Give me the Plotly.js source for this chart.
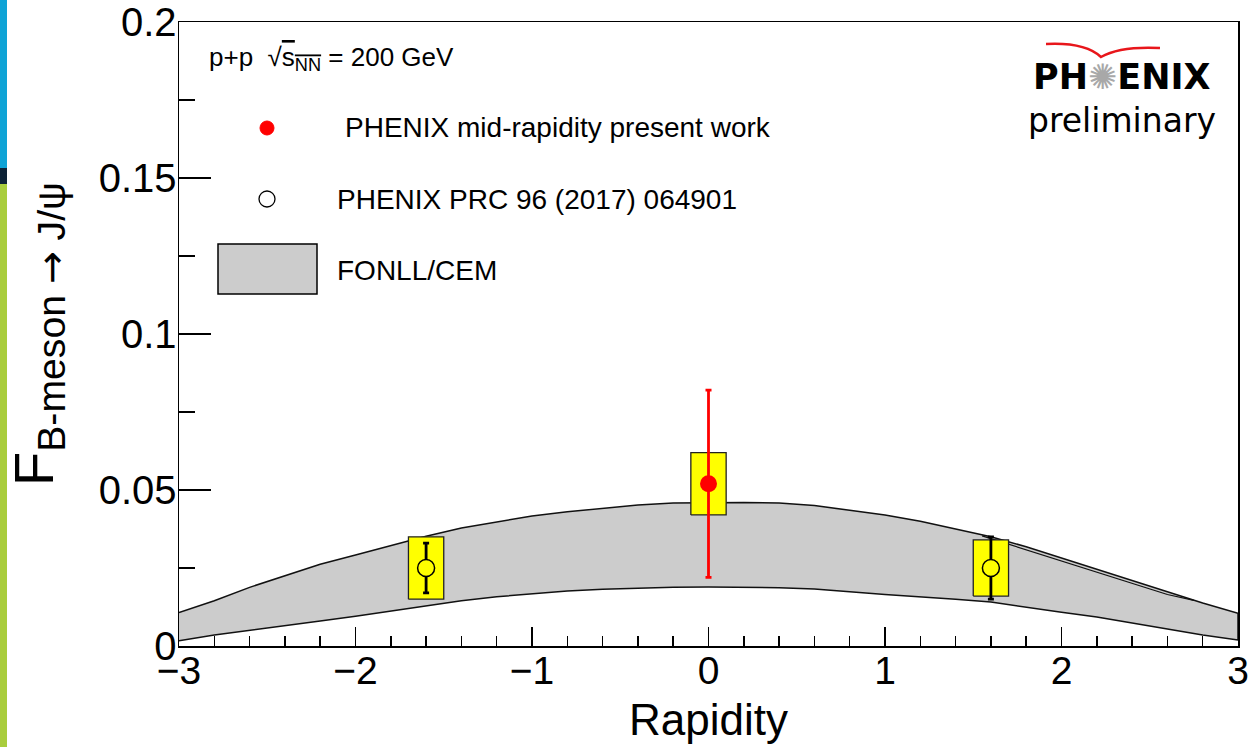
<!DOCTYPE html>
<html><head><meta charset="utf-8">
<script src="https://cdn.plot.ly/plotly-3.0.1.min.js"></script>
<style>html,body{margin:0;padding:0;background:#fff}#plot{width:1248px;height:747px}</style>
</head><body><div id="plot"></div>
<script>
// ---- data ----
const rapidity  = [-3, -2.8, -2.6, -2.4, -2.2, -2, -1.8, -1.6, -1.4, -1.2, -1, -0.8, -0.6, -0.4, -0.2, 0, 0.2, 0.4, 0.6, 0.8, 1, 1.2, 1.4, 1.6, 1.8, 2, 2.2, 2.4, 2.6, 2.8, 3];
const bandUpper = [0.0107, 0.0145, 0.0188, 0.0225, 0.0262, 0.0292, 0.0322, 0.0352, 0.0378, 0.0398, 0.0417, 0.0430, 0.0442, 0.0452, 0.0458, 0.0460, 0.0460, 0.0458, 0.0450, 0.0435, 0.0420, 0.0400, 0.0376, 0.0350, 0.0318, 0.0282, 0.0245, 0.0210, 0.0172, 0.0138, 0.0105];
const bandLower = [0.0017, 0.0035, 0.0050, 0.0065, 0.0080, 0.0095, 0.0113, 0.0128, 0.0145, 0.0158, 0.0168, 0.0176, 0.0182, 0.0186, 0.0188, 0.0189, 0.0189, 0.0187, 0.0183, 0.0174, 0.0165, 0.0157, 0.0150, 0.0141, 0.0125, 0.0108, 0.0093, 0.0075, 0.0055, 0.0035, 0.0019];
// second (slightly offset) upper edge visible on the forward side
const bandEdgeAltX = [1.55, 1.8, 2.0, 2.2, 2.4, 2.6, 2.75];
const bandEdgeAltY = [0.0353, 0.0308, 0.0272, 0.0236, 0.0201, 0.0165, 0.0146];

const presentX    = [0];
const presentY    = [0.052];
const presentStat = [0.030];
const presentSyst = [0.010];

const prcX    = [-1.6, 1.6];
const prcY    = [0.025, 0.025];
const prcStat = [0.008, 0.010];
const prcSyst = [0.010, 0.009];

const legendLabels = ['PHENIX mid-rapidity present work', 'PHENIX PRC 96 (2017) 064901', 'FONLL/CEM'];
const xTicks = [-3, -2, -1, 0, 1, 2, 3];
const yTicks = [0, 0.05, 0.1, 0.15, 0.2];

// ---- styling ----
const FONT = 'Liberation Sans, Arial, Helvetica, sans-serif';
const BOX_HALF = 0.1;

const traces = [];
// theory band
traces.push({
  type: 'scatter', mode: 'lines',
  x: rapidity.concat(rapidity.slice().reverse()),
  y: bandUpper.concat(bandLower.slice().reverse()),
  fill: 'toself', fillcolor: '#cccccc',
  line: {color: '#111', width: 1.5},
  showlegend: false, hoverinfo: 'skip'
});
traces.push({
  type: 'scatter', mode: 'lines', x: bandEdgeAltX, y: bandEdgeAltY,
  line: {color: '#111', width: 1.2},
  showlegend: false, hoverinfo: 'skip'
});
// systematic boxes
function addBoxes(xs, ys, ss) {
  xs.forEach((x, i) => {
    traces.push({
      type: 'scatter', mode: 'lines',
      x: [x - BOX_HALF, x + BOX_HALF, x + BOX_HALF, x - BOX_HALF, x - BOX_HALF],
      y: [ys[i] - ss[i], ys[i] - ss[i], ys[i] + ss[i], ys[i] + ss[i], ys[i] - ss[i]],
      fill: 'toself', fillcolor: '#ffff00',
      line: {color: '#222', width: 1.3},
      showlegend: false, hoverinfo: 'skip'
    });
  });
}
addBoxes(prcX, prcY, prcSyst);
addBoxes(presentX, presentY, presentSyst);

traces.push({
  type: 'scatter', mode: 'markers', x: prcX, y: prcY,
  error_y: {type: 'data', array: prcStat, visible: true, color: '#000', thickness: 2.8, width: 3},
  marker: {symbol: 'circle', size: 17, color: '#ffff00', line: {color: '#000', width: 1.5}},
  showlegend: false
});
traces.push({
  type: 'scatter', mode: 'markers', x: presentX, y: presentY,
  error_y: {type: 'data', array: presentStat, visible: true, color: '#ff0000', thickness: 2.8, width: 3},
  marker: {symbol: 'circle', size: 17, color: '#ff0000'},
  showlegend: false
});

// helpers for paper coords (plot area 179..1238 x 22..646 px)
const L = 179, R = 10, T = 22, B = 101, W = 1248, H = 747;
const pw = W - L - R, ph = H - T - B;
const px = x => (x - L) / pw;
const py = y => (H - B - y) / ph;

const shapes = [
  // slide side strip
  {type: 'rect', xref: 'paper', yref: 'paper', x0: px(0), x1: px(7), y0: py(0), y1: py(168), fillcolor: '#0ea3d6', line: {width: 0}, layer: 'below'},
  {type: 'rect', xref: 'paper', yref: 'paper', x0: px(0), x1: px(7), y0: py(168), y1: py(184), fillcolor: '#0d2236', line: {width: 0}, layer: 'below'},
  {type: 'rect', xref: 'paper', yref: 'paper', x0: px(0), x1: px(7), y0: py(184), y1: py(747), fillcolor: '#a9cd3d', line: {width: 0}, layer: 'below'},
  // legend symbols
  {type: 'circle', xref: 'paper', yref: 'paper', x0: px(260), x1: px(274), y0: py(135), y1: py(121), fillcolor: '#ff0000', line: {color: '#ff0000', width: 1}},
  {type: 'circle', xref: 'paper', yref: 'paper', x0: px(259), x1: px(275), y0: py(207), y1: py(191), fillcolor: '#ffffff', line: {color: '#000', width: 1.3}},
  {type: 'rect', xref: 'paper', yref: 'paper', x0: px(218), x1: px(317), y0: py(294), y1: py(244), fillcolor: '#cccccc', line: {color: '#000', width: 1.5}},
  // PHENIX logo swoosh
  {type: 'path', xref: 'paper', yref: 'paper',
   path: `M ${px(1046)} ${py(44)} Q ${px(1085)} ${py(42)} ${px(1101)} ${py(57)} Q ${px(1120)} ${py(46)} ${px(1160)} ${py(48)}`,
   line: {color: '#e8161b', width: 2.4}}
];

const annotations = [
  {xref: 'paper', yref: 'paper', x: px(207), y: py(58), xanchor: 'left', yanchor: 'middle', showarrow: false,
   text: 'p+p  √<span style="text-decoration:overline">s<sub>NN</sub></span> = 200 GeV', font: {family: FONT, size: 26, color: '#000'}},
  {xref: 'paper', yref: 'paper', x: px(343), y: py(128), xanchor: 'left', yanchor: 'middle', showarrow: false,
   text: legendLabels[0], font: {family: FONT, size: 28, color: '#000'}},
  {xref: 'paper', yref: 'paper', x: px(335), y: py(199), xanchor: 'left', yanchor: 'middle', showarrow: false,
   text: legendLabels[1], font: {family: FONT, size: 28, color: '#000'}},
  {xref: 'paper', yref: 'paper', x: px(335), y: py(270), xanchor: 'left', yanchor: 'middle', showarrow: false,
   text: legendLabels[2], font: {family: FONT, size: 28, color: '#000'}},
  {xref: 'paper', yref: 'paper', x: px(1122), y: py(77), xanchor: 'center', yanchor: 'middle', showarrow: false,
   text: '<b>PH</b><span style="color:#a8a8a8">✺</span><b>ENIX</b>', font: {family: 'DejaVu Sans, sans-serif', size: 35, color: '#000'}},
  {xref: 'paper', yref: 'paper', x: px(1122), y: py(120), xanchor: 'center', yanchor: 'middle', showarrow: false,
   text: 'preliminary', font: {family: 'DejaVu Sans, sans-serif', size: 33, color: '#000'}}
];

const layout = {
  width: W, height: H,
  margin: {l: L, r: R, t: T, b: B},
  paper_bgcolor: '#ffffff', plot_bgcolor: '#ffffff',
  font: {family: FONT, color: '#000'},
  showlegend: false,
  xaxis: {
    range: [-3, 3], tickvals: xTicks, ticktext: xTicks.map(v => v < 0 ? '−' + Math.abs(v) : String(v)),
    ticks: 'inside', ticklen: 19, tickwidth: 1.5, tickcolor: '#000',
    minor: {dtick: 0.2, tick0: 0, ticks: 'inside', ticklen: 10, tickwidth: 1.5, tickcolor: '#000', showgrid: false},
    showline: true, mirror: true, linecolor: '#000', linewidth: 1.5,
    showgrid: false, zeroline: false,
    ticklabeloverflow: 'allow', ticklabelstandoff: -10,
    tickfont: {family: FONT, size: 39},
    title: {text: 'Rapidity', font: {family: FONT, size: 44}, standoff: 13}
  },
  yaxis: {
    range: [0, 0.2], tickvals: yTicks, ticktext: yTicks.map(v => String(v)),
    ticks: 'inside', ticklen: 32, tickwidth: 1.5, tickcolor: '#000',
    minor: {dtick: 0.025, tick0: 0, ticks: 'inside', ticklen: 16, tickwidth: 1.5, tickcolor: '#000', showgrid: false},
    showline: true, mirror: true, linecolor: '#000', linewidth: 1.5,
    showgrid: false, zeroline: false,
    ticklabeloverflow: 'allow', ticklabelstandoff: -7,
    tickfont: {family: FONT, size: 40},
    title: {text: 'F<sub>B-meson <span style="font-family:DejaVu Sans">→</span> J/ψ</sub>', font: {family: FONT, size: 56}, standoff: 27}
  },
  shapes: shapes,
  annotations: annotations
};

Plotly.newPlot('plot', traces, layout, {displayModeBar: false, staticPlot: true});
</script>
</body></html>
